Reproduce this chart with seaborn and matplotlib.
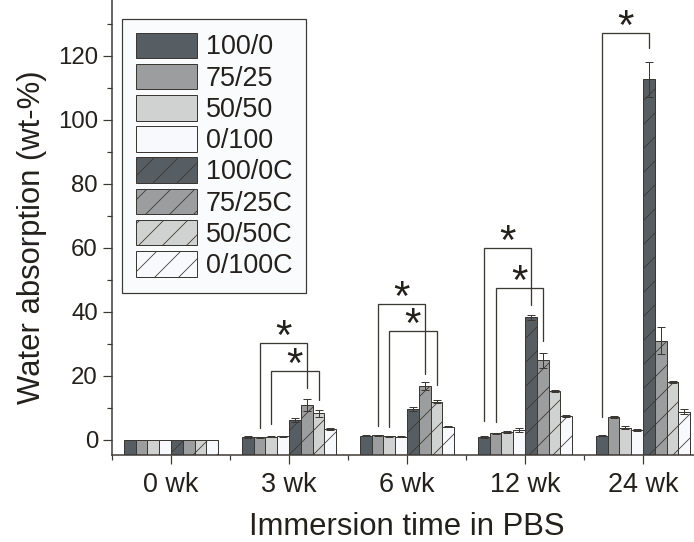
import numpy as np
import pandas as pd
import seaborn as sns
import matplotlib.pyplot as plt
from matplotlib.patches import Patch
from matplotlib.ticker import MultipleLocator

# Values (wt-%)
times = ['0 wk', '3 wk', '6 wk', '12 wk', '24 wk']
groups = ['100/0', '75/25', '50/50', '0/100', '100/0C', '75/25C', '50/50C', '0/100C']

v_100_0 = [0.0, 0.8, 1.35, 1.0, 1.35]
v_75_25 = [0.0, 0.8, 1.5, 2.1, 7.1]
v_50_50 = [0.0, 1.0, 1.15, 2.4, 3.8]
v_0_100 = [0.0, 1.1, 1.05, 3.1, 3.1]
v_100_0c = [0.0, 6.2, 9.7, 38.3, 112.7]
v_75_25c = [0.0, 10.9, 16.9, 24.9, 31.0]
v_50_50c = [0.0, 8.3, 12.0, 15.3, 18.0]
v_0_100c = [0.0, 3.4, 4.2, 7.5, 8.85]

e_100_0 = [0.0, 0.3, 0.2, 0.3, 0.2]
e_75_25 = [0.0, 0.2, 0.2, 0.2, 0.3]
e_50_50 = [0.0, 0.2, 0.1, 0.3, 0.5]
e_0_100 = [0.0, 0.2, 0.1, 0.65, 0.2]
e_100_0c = [0.0, 0.6, 0.7, 0.7, 5.4]
e_75_25c = [0.0, 1.9, 1.3, 2.4, 4.2]
e_50_50c = [0.0, 1.0, 0.5, 0.3, 0.3]
e_0_100c = [0.0, 0.2, 0.2, 0.2, 0.8]

# significance brackets: time, left group, right group, top, left foot, right foot
bracket_time = ['3 wk', '3 wk', '6 wk', '6 wk', '12 wk', '12 wk', '24 wk']
bracket_left = ['75/25', '50/50', '75/25', '50/50', '100/0', '75/25', '100/0']
bracket_right = ['75/25C', '50/50C', '75/25C', '50/50C', '100/0C', '75/25C', '100/0C']
bracket_top = [30.4, 21.5, 42.6, 34.1, 59.9, 47.6, 127.3]
bracket_lfoot = [3.8, 5.0, 4.5, 3.9, 6.0, 5.7, 7.3]
bracket_rfoot = [16.2, 12.5, 20.6, 17.2, 42.2, 31.0, 122.4]

values = [v_100_0, v_75_25, v_50_50, v_0_100, v_100_0c, v_75_25c, v_50_50c, v_0_100c]
errors = [e_100_0, e_75_25, e_50_50, e_0_100, e_100_0c, e_75_25c, e_50_50c, e_0_100c]

df = pd.DataFrame({
    'time': np.tile(times, len(groups)),
    'group': np.repeat(groups, len(times)),
    'value': np.concatenate(values),
    'err': np.concatenate(errors),
})

# styling
INK = '#24201c'
EDGE = '#3b3733'
fills = ['#575e63', '#9b9d9f', '#d0d2d1', '#f7f9fc'] * 2
hatches = [''] * 4 + ['/'] * 4
palette = dict(zip(groups, fills))
Y_MIN, Y_MAX = -4.7, 137.5

sns.set_theme(style='ticks')
plt.rcParams['font.family'] = ['Liberation Sans', 'DejaVu Sans']
plt.rcParams['hatch.color'] = EDGE
plt.rcParams['hatch.linewidth'] = 0.8
plt.rcParams['text.color'] = INK
plt.rcParams['axes.labelcolor'] = INK

W, H = 694, 542
fig = plt.figure(figsize=(W / 72, H / 72), dpi=72)
ax = fig.add_axes([112 / W, 1 - 455 / H, 590 / W, 455 / H])

sns.barplot(data=df, x='time', y='value', hue='group',
            order=times, hue_order=groups, palette=palette,
            edgecolor=EDGE, linewidth=1, errorbar=None,
            width=0.8, legend=False, saturation=1, ax=ax)

# bars start at the bottom of the axis, hatched for the C series
bar_sets = list(ax.containers)
centers = {}
for k, cont in enumerate(bar_sets):
    for j, bar in enumerate(cont.patches):
        val = values[k][j]
        bar.set_y(Y_MIN)
        bar.set_height(val - Y_MIN)
        bar.set_hatch(hatches[k])
        xc = bar.get_x() + bar.get_width() / 2
        centers[(times[j], groups[k])] = xc
        if errors[k][j] > 0:
            ax.errorbar(xc, val, yerr=errors[k][j], fmt='none', ecolor=EDGE,
                        elinewidth=1, capsize=4, capthick=1, zorder=3)

for t, gl, gr, top, lf, rf in zip(bracket_time, bracket_left, bracket_right,
                                  bracket_top, bracket_lfoot, bracket_rfoot):
    xl, xr = centers[(t, gl)], centers[(t, gr)]
    ax.plot([xl, xl, xr, xr], [lf, top, top, rf], color=EDGE, lw=1.3,
            solid_joinstyle='miter', zorder=4)
    ax.annotate('*', xy=((xl + xr) / 2, top), xytext=(0, -6),
                textcoords='offset points', ha='center', va='baseline',
                fontsize=42, color=INK)

ax.set_xlim(-0.5, len(times) - 0.5)
ax.set_ylim(Y_MIN, Y_MAX)
ax.yaxis.set_major_locator(MultipleLocator(20))
ax.yaxis.set_minor_locator(MultipleLocator(10))
ax.xaxis.set_minor_locator(MultipleLocator(1, offset=0.5))
ax.tick_params(axis='both', which='major', length=9, width=1.2, color=EDGE)
ax.tick_params(axis='both', which='minor', length=5, width=1.2, color=EDGE)
ax.tick_params(axis='y', labelsize=24, pad=5, labelcolor=INK)
ax.tick_params(axis='x', labelsize=27, pad=8, labelcolor=INK)

sns.despine(ax=ax)
for s in ['left', 'bottom']:
    ax.spines[s].set_color(EDGE)
    ax.spines[s].set_linewidth(1.5)

ax.set_xlabel('Immersion time in PBS', fontsize=31)
ax.set_ylabel('Water absorption (wt-%)', fontsize=31)
ax.xaxis.set_label_coords(0.5, -0.125)
ax.yaxis.set_label_coords(-0.110, 0.478)

handles = [Patch(facecolor=f, edgecolor=EDGE, hatch=h, linewidth=1)
           for f, h in zip(fills, hatches)]
leg = ax.legend(handles, groups, loc='upper left',
                bbox_to_anchor=(122 / W, 1 - 19 / H), bbox_transform=fig.transFigure,
                fontsize=27, frameon=True, fancybox=False, framealpha=1,
                borderpad=0.5, borderaxespad=0, handlelength=2.26,
                handleheight=1.08, handletextpad=0.35, labelspacing=0.12)
leg.get_frame().set_edgecolor(EDGE)
leg.get_frame().set_facecolor('#f9fbfd')
leg.get_frame().set_linewidth(1.2)

fig.savefig('out.png', dpi=72)
